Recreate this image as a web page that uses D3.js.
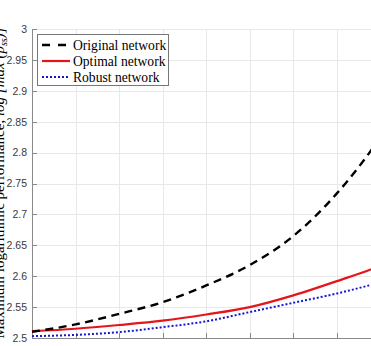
<!DOCTYPE html>
<html lang="en">
<head>
  <meta charset="UTF-8">
  <script src="https://d3js.org/d3.v7.min.js"></script>
  <style>
  body {
    margin:0;
    background-color:#fff;
  }
  .grid line {
    stroke:#e8e8e8;
    stroke-width:1px;
    shape-rendering:crispEdges;
  }
  .axis path, .axis line {
    stroke:#8a8a8a;
    shape-rendering:crispEdges;
  }
  .axis text {
    font-family:"Liberation Sans", Arial, sans-serif;
    font-size:10.5px;
    fill:#3a3a3a;
  }
  .legend text {
    font-family:"Liberation Serif", "Times New Roman", serif;
    font-size:13.6px;
    fill:#000;
  }
  </style>
</head>
<body>
<svg id="chart" width="371" height="346"></svg>

<script>
// values
const nodes    = [10, 20, 30, 40, 50, 60, 70, 80, 90, 100];
const original = [2.510, 2.522, 2.539, 2.558, 2.585, 2.618, 2.665, 2.734, 2.825, 2.94];
const optimal  = [2.511, 2.515, 2.521, 2.528, 2.538, 2.550, 2.569, 2.592, 2.617, 2.65];
const robust   = [2.503, 2.505, 2.5095, 2.5175, 2.527, 2.542, 2.557, 2.572, 2.590, 2.61];
const xTicks = [10, 20, 30, 40, 50, 60, 70, 80, 90, 100];
const yTicks = [2.5, 2.55, 2.6, 2.65, 2.7, 2.75, 2.8, 2.85, 2.9, 2.95, 3];
const seriesNames = ["Original network", "Optimal network", "Robust network"];

let svg = d3.select("#chart");

// plot area runs past the right edge (the picture is cropped)
let x = d3.scaleLinear().domain([10, 100]).range([32, 424]);
let y = d3.scaleLinear().domain([2.5, 3]).range([338, 29]);

// gridlines
let grid = svg.append("g").attr("class", "grid");
grid.selectAll(".gx").data(xTicks).enter().append("line")
  .attr("x1", d => Math.round(x(d)) + 0.5).attr("x2", d => Math.round(x(d)) + 0.5)
  .attr("y1", y(2.5)).attr("y2", y(3));
grid.selectAll(".gy").data(yTicks).enter().append("line")
  .attr("x1", x(10)).attr("x2", x(100))
  .attr("y1", d => Math.round(y(d)) + 0.5).attr("y2", d => Math.round(y(d)) + 0.5);

// axes, ticks pointing inside like matlab
svg.append("g")
  .attr("class", "axis")
  .attr("transform", "translate(" + x(10) + ",0)")
  .call(d3.axisLeft(y).tickValues(yTicks).tickSizeInner(-5).tickSizeOuter(0).tickPadding(5)
    .tickFormat(d3.format("~g")));

svg.append("g")
  .attr("class", "axis")
  .attr("transform", "translate(0," + y(2.5) + ")")
  .call(d3.axisBottom(x).tickValues(xTicks).tickSizeInner(-5).tickSizeOuter(0).tickPadding(9));

// lines
let lineGen = d3.line()
  .x((d, i) => x(nodes[i]))
  .y(d => y(d))
  .curve(d3.curveMonotoneX);

let styles = [
  {color:"#000", width:2.4, dash:"8,5.5"},
  {color:"#e3161b", width:2.2, dash:null},
  {color:"#1616d0", width:2, dash:"2,2"}
];
let data = [original, optimal, robust];

// draw robust first so the dashed line stays on top like in the figure
[2, 1, 0].forEach(function(k) {
  svg.append("path")
    .datum(data[k])
    .attr("fill", "none")
    .attr("stroke", styles[k].color)
    .attr("stroke-width", styles[k].width)
    .attr("stroke-dasharray", styles[k].dash)
    .attr("d", lineGen);
});

// y label, mostly cut off on the left
let ylab = svg.append("text")
  .attr("transform", "translate(4,183) rotate(-90)")
  .attr("text-anchor", "middle")
  .style("font-family", "'Liberation Serif', 'Times New Roman', serif")
  .style("font-size", "15px");
ylab.append("tspan").text("Maximum logarithmic performance, ");
ylab.append("tspan").style("font-style", "italic").text("log [max (p");
ylab.append("tspan").style("font-style", "italic").style("font-size", "10px").attr("dy", 3).text("ss");
ylab.append("tspan").style("font-style", "italic").attr("dy", -3).text(")]");

// legend
let legend = svg.append("g").attr("class", "legend");
legend.append("rect")
  .attr("x", 37.5).attr("y", 34.5).attr("width", 131).attr("height", 51)
  .attr("fill", "#fff").attr("stroke", "#777").attr("stroke-width", 1);

seriesNames.forEach(function(name, i) {
  let cy = 45 + i * 16;
  legend.append("line")
    .attr("x1", 42).attr("x2", 70).attr("y1", cy).attr("y2", cy)
    .attr("stroke", styles[i].color)
    .attr("stroke-width", styles[i].width)
    .attr("stroke-dasharray", i == 0 ? "8,8" : styles[i].dash);
  legend.append("text")
    .attr("x", 73).attr("y", cy + 4.5)
    .text(name);
});
</script>
</body>
</html>
